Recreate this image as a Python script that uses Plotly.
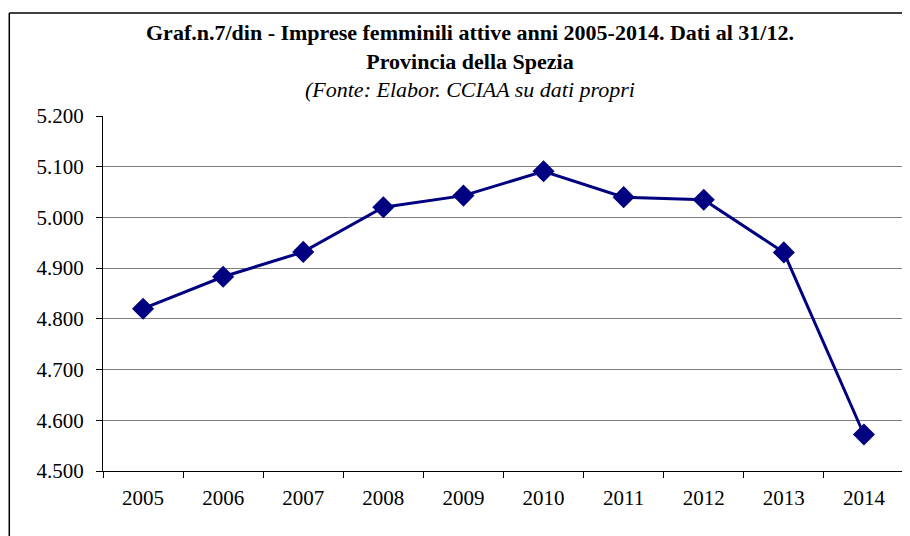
import plotly.graph_objects as go

# imprese femminili attive al 31/12, Provincia della Spezia
anni = ["2005", "2006", "2007", "2008", "2009", "2010", "2011", "2012", "2013", "2014"]
imprese = [4820, 4883, 4932, 5020, 5043, 5091, 5040, 5035, 4931, 4572]

y_ticks = [4500, 4600, 4700, 4800, 4900, 5000, 5100, 5200]

serif = "Liberation Serif"

fig = go.Figure()
fig.add_trace(go.Scatter(
    x=anni, y=imprese, mode="lines+markers",
    line=dict(color="#000080", width=3),
    marker=dict(symbol="diamond", size=17, color="#000080"),
    showlegend=False,
))

fig.update_xaxes(
    type="category", range=[-0.5, 9.5],
    showline=True, linecolor="#000000", linewidth=1,
    ticks="outside", tickson="boundaries", ticklen=6, tickcolor="#000000",
    showgrid=False, ticklabelstandoff=8,
    tickfont=dict(family=serif, size=21, color="#000000"),
)
fig.update_yaxes(
    range=[4500, 5200], tickvals=y_ticks, tickformat=",d",
    showline=True, linecolor="#000000", linewidth=1,
    ticks="outside", ticklen=6, tickcolor="#000000",
    showgrid=True, gridcolor="#808080", gridwidth=1,
    zeroline=False, ticklabelstandoff=8,
    tickfont=dict(family=serif, size=21, color="#000000"),
)

# cornice del grafico e bordo destro dell'area
fig.add_shape(type="line", xref="paper", yref="paper", x0=1, x1=1, y0=0, y1=1,
              line=dict(color="#808080", width=1))
fig.add_shape(type="line", xref="paper", yref="paper", x0=-0.117, x1=-0.117, y0=-0.3, y1=1.29,
              line=dict(color="#000000", width=1.5))
fig.add_shape(type="line", xref="paper", yref="paper", x0=-0.117, x1=1.2, y0=1.29, y1=1.29,
              line=dict(color="#000000", width=1.5))

fig.add_annotation(
    xref="paper", yref="paper", x=0.458, y=1.29, yshift=-5, yanchor="top", showarrow=False,
    align="center",
    text="<b>Graf.n.7/din - Imprese femminili attive anni 2005-2014. Dati al 31/12.</b><br>"
         "<b>Provincia della Spezia</b><br><i>(Fonte: Elabor. CCIAA su dati propri</i>",
    font=dict(family=serif, size=22, color="#000000"),
)

fig.update_layout(
    width=902, height=528,
    margin=dict(l=95, r=6, t=108, b=65),
    paper_bgcolor="white", plot_bgcolor="white",
    separators=",.",
)
fig.write_html("out.html")
